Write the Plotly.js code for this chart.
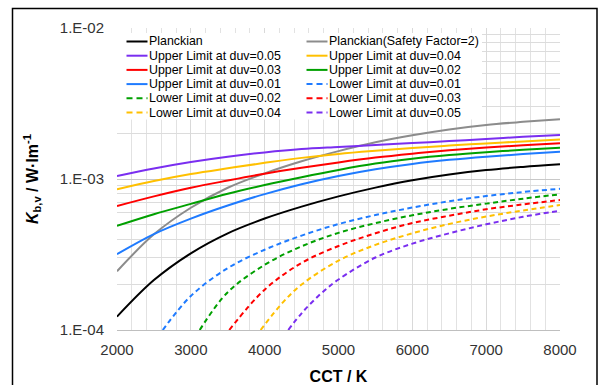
<!DOCTYPE html>
<html>
<head>
<meta charset="utf-8">
<script src="https://cdn.plot.ly/plotly-3.0.1.min.js"></script>
<style>
html,body{margin:0;padding:0;background:#ffffff;}
#chart{width:603px;height:385px;}
</style>
</head>
<body>
<div id="chart"></div>
<script>
// ---------------- data ----------------
const cct = [2000, 2500, 3000, 3500, 4000, 4500, 5000, 5500, 6000, 6500, 7000, 7500, 8000];

const planckian    = [1.225e-4, 2.14e-4, 3.22e-4, 4.37e-4, 5.47e-4, 6.56e-4, 7.67e-4, 8.77e-4, 9.82e-4, 1.072e-3, 1.146e-3, 1.203e-3, 1.252e-3];
const planckianSF2 = [2.45e-4, 4.3e-4, 6.45e-4, 8.75e-4, 1.09e-3, 1.31e-3, 1.53e-3, 1.75e-3, 1.95e-3, 2.13e-3, 2.28e-3, 2.39e-3, 2.49e-3];
const upper005 = [1.047e-3, 1.175e-3, 1.297e-3, 1.406e-3, 1.500e-3, 1.578e-3, 1.629e-3, 1.679e-3, 1.730e-3, 1.782e-3, 1.841e-3, 1.901e-3, 1.959e-3];
const upper004 = [8.55e-4, 9.70e-4, 1.079e-3, 1.178e-3, 1.279e-3, 1.380e-3, 1.466e-3, 1.538e-3, 1.605e-3, 1.665e-3, 1.720e-3, 1.774e-3, 1.828e-3];
const upper003 = [6.62e-4, 7.67e-4, 8.75e-4, 9.77e-4, 1.084e-3, 1.186e-3, 1.288e-3, 1.387e-3, 1.472e-3, 1.549e-3, 1.614e-3, 1.675e-3, 1.726e-3];
const upper002 = [4.89e-4, 5.84e-4, 6.84e-4, 7.98e-4, 9.12e-4, 1.028e-3, 1.148e-3, 1.265e-3, 1.361e-3, 1.440e-3, 1.505e-3, 1.560e-3, 1.611e-3];
const upper001 = [3.18e-4, 4.32e-4, 5.47e-4, 6.68e-4, 7.94e-4, 9.23e-4, 1.047e-3, 1.161e-3, 1.259e-3, 1.340e-3, 1.406e-3, 1.462e-3, 1.517e-3];

const lower001Cct = [2620, 3000, 3500, 4000, 4500, 5000, 5500, 6000, 6500, 7000, 7500, 8000];
const lower001    = [1.00e-4, 1.68e-4, 2.57e-4, 3.40e-4, 4.22e-4, 5.03e-4, 5.77e-4, 6.47e-4, 7.12e-4, 7.71e-4, 8.20e-4, 8.61e-4];
const lower002Cct = [3120, 3500, 4000, 4500, 5000, 5500, 6000, 6500, 7000, 7500, 8000];
const lower002    = [1.00e-4, 1.78e-4, 2.70e-4, 3.58e-4, 4.40e-4, 5.10e-4, 5.75e-4, 6.34e-4, 6.87e-4, 7.41e-4, 7.92e-4];
const lower003Cct = [3520, 4000, 4500, 5000, 5500, 6000, 6500, 7000, 7500, 8000];
const lower003    = [1.00e-4, 1.85e-4, 2.78e-4, 3.60e-4, 4.37e-4, 5.11e-4, 5.71e-4, 6.30e-4, 6.79e-4, 7.26e-4];
const lower004Cct = [3945, 4250, 4500, 5000, 5500, 6000, 6500, 7000, 7500, 8000];
const lower004    = [1.00e-4, 1.53e-4, 2.00e-4, 2.88e-4, 3.66e-4, 4.37e-4, 5.04e-4, 5.64e-4, 6.19e-4, 6.73e-4];
const lower005Cct = [4320, 4500, 4750, 5000, 5500, 6000, 6500, 7000, 7500, 8000];
const lower005    = [1.00e-4, 1.29e-4, 1.72e-4, 2.16e-4, 3.02e-4, 3.73e-4, 4.37e-4, 5.01e-4, 5.62e-4, 6.17e-4];

const seriesNames = [
  'Planckian', 'Planckian(Safety Factor=2)',
  'Upper Limit at duv=0.05', 'Upper Limit at duv=0.04',
  'Upper Limit at duv=0.03', 'Upper Limit at duv=0.02',
  'Upper Limit at duv=0.01', 'Lower Limit at duv=0.01',
  'Lower Limit at duv=0.02', 'Lower Limit at duv=0.03',
  'Lower Limit at duv=0.04', 'Lower Limit at duv=0.05'
];

const xTickVals = [2000, 3000, 4000, 5000, 6000, 7000, 8000];
const yTickVals = [1e-4, 1e-3, 1e-2];
const yTickText = ['1.E-04', '1.E-03', '1.E-02'];
const yMinorVals = [2e-4, 3e-4, 4e-4, 5e-4, 6e-4, 7e-4, 8e-4, 9e-4,
                    2e-3, 3e-3, 4e-3, 5e-3, 6e-3, 7e-3, 8e-3, 9e-3];

// ---------------- styles ----------------
const C_BLACK = '#000000', C_GRAY = '#8c8c8c', C_PURPLE = '#7a2ef0', C_YELLOW = '#ffc000',
      C_RED = '#ff0000', C_GREEN = '#00a000', C_BLUE = '#1f7bff';
const DASH = '5px,3.5px';

const series = [
  {x: cct, y: planckian,    color: C_BLACK,  dash: 'solid'},
  {x: cct, y: planckianSF2, color: C_GRAY,   dash: 'solid'},
  {x: cct, y: upper005,     color: C_PURPLE, dash: 'solid'},
  {x: cct, y: upper004,     color: C_YELLOW, dash: 'solid'},
  {x: cct, y: upper003,     color: C_RED,    dash: 'solid'},
  {x: cct, y: upper002,     color: C_GREEN,  dash: 'solid'},
  {x: cct, y: upper001,     color: C_BLUE,   dash: 'solid'},
  {x: lower001Cct, y: lower001, color: C_BLUE,   dash: DASH},
  {x: lower002Cct, y: lower002, color: C_GREEN,  dash: DASH},
  {x: lower003Cct, y: lower003, color: C_RED,    dash: DASH},
  {x: lower004Cct, y: lower004, color: C_YELLOW, dash: DASH},
  {x: lower005Cct, y: lower005, color: C_PURPLE, dash: DASH}
];

const traces = series.map((s, i) => ({
  type: 'scatter', mode: 'lines', name: seriesNames[i],
  x: s.x, y: s.y, showlegend: false, hoverinfo: 'skip',
  line: {color: s.color, width: 2, dash: s.dash, shape: 'spline', smoothing: 1}
}));

// ---------------- layout ----------------
const W = 603, H = 385, ML = 117, MR = 43, MT = 28, MB = 55;
const PW = W - ML - MR, PH = H - MT - MB;
const px2x = p => (p - ML) / PW;
const py2y = p => (H - MB - p) / PH;
const FONT = 'Arial, "Liberation Sans", sans-serif';

const shapes = [];
const annotations = [];

// outer frame of the figure
shapes.push({type: 'rect', xref: 'paper', yref: 'paper', layer: 'above',
  x0: px2x(12.5), x1: px2x(597), y0: py2y(400), y1: py2y(8.5),
  line: {color: '#000000', width: 1.5}, fillcolor: 'rgba(0,0,0,0)'});

// legend box (white background, no border)
shapes.push({type: 'rect', xref: 'paper', yref: 'paper', layer: 'above',
  x0: px2x(116), x1: px2x(482), y0: py2y(119.5), y1: py2y(33),
  line: {width: 0}, fillcolor: '#ffffff'});

const LEG_ROW0 = 41.5, LEG_ROWH = 14.2;
const LEG_COLS = [{l0: 126.5, l1: 147.5, t: 148}, {l0: 306.5, l1: 327.5, t: 328}];
series.forEach((s, i) => {
  const col = LEG_COLS[i % 2];
  const yy = py2y(LEG_ROW0 + LEG_ROWH * Math.floor(i / 2));
  shapes.push({type: 'line', xref: 'paper', yref: 'paper', layer: 'above',
    x0: px2x(col.l0), x1: px2x(col.l1), y0: yy, y1: yy,
    line: {color: s.color, width: 2, dash: s.dash === 'solid' ? 'solid' : '6px,4px'}});
  annotations.push({xref: 'paper', yref: 'paper', x: px2x(col.t), y: yy,
    xanchor: 'left', yanchor: 'middle', showarrow: false, borderpad: 0,
    text: seriesNames[i], font: {family: FONT, size: 12.4, color: '#000000'}});
});

const layout = {
  width: W, height: H,
  margin: {l: ML, r: MR, t: MT, b: MB, pad: 0},
  paper_bgcolor: '#ffffff', plot_bgcolor: '#ffffff',
  font: {family: FONT, color: '#404040'},
  showlegend: false,
  xaxis: {
    range: [2000, 8000], tickmode: 'array', tickvals: xTickVals,
    ticks: '', ticklabelstandoff: 6,
    tickfont: {family: FONT, size: 15, color: '#333333'},
    showgrid: true, gridcolor: '#d9d9d9', gridwidth: 1,
    minor: {dtick: 200, tick0: 2000, showgrid: true, gridcolor: '#e2e2e2', gridwidth: 1},
    showline: true, linecolor: '#bfbfbf', linewidth: 1, zeroline: false,
    automargin: false,
    title: {text: '<b>CCT / K</b>', standoff: 14, font: {family: FONT, size: 16, color: '#000000'}}
  },
  yaxis: {
    type: 'log', range: [-4, -2], tickmode: 'array', tickvals: yTickVals, ticktext: yTickText,
    ticks: '', ticklabelstandoff: 12,
    tickfont: {family: FONT, size: 15, color: '#333333'},
    showgrid: true, gridcolor: '#c8c8c8', gridwidth: 1,
    minor: {tickmode: 'array', tickvals: yMinorVals, showgrid: true, gridcolor: '#dcdcdc', gridwidth: 1},
    showline: false, zeroline: false, automargin: false,
    title: {text: '<b><i>K</i><sub>b,v</sub> / W·lm<sup>-1</sup></b>', standoff: 17,
            font: {family: FONT, size: 16, color: '#000000'}}
  },
  shapes: shapes,
  annotations: annotations
};

Plotly.newPlot('chart', traces, layout, {staticPlot: true, displayModeBar: false});
</script>
</body>
</html>
